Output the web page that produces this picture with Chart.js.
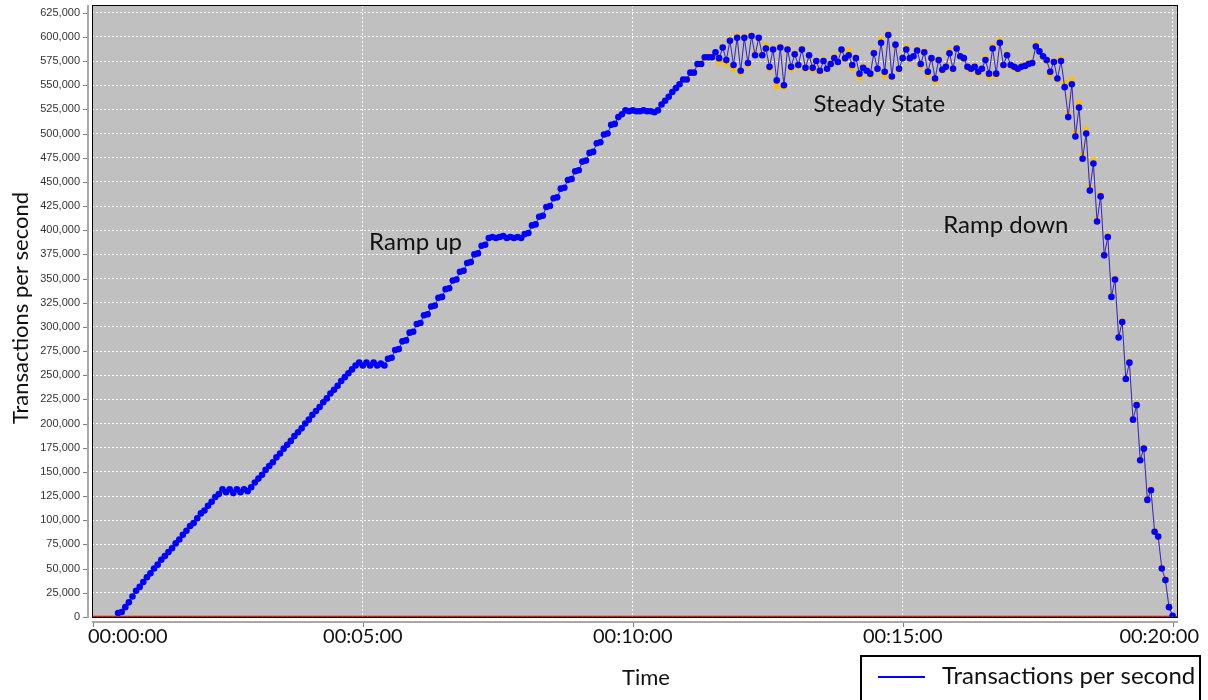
<!DOCTYPE html>
<html>
<head>
<meta charset="utf-8">
<script src="https://cdn.jsdelivr.net/npm/chart.js@4.4.1/dist/chart.umd.min.js"></script>
<style>
  html, body { margin: 0; padding: 0; background: #fff; }
</style>
</head>
<body>
<canvas id="tpsChart" width="1208" height="700"></canvas>
<script>
// samples every 4 s, first one 28 s into the run
const sampleStart = 28;
const sampleStep = 4;

// transactions per second, in thousands
const tpsThousands = [
  4, 5, 10, 15, 21, 27, 31, 36, 41, 45, 50, 54, 59, 63, 67, 71, 76, 80, 85, 89,
  94, 97, 102, 107, 110, 115, 119, 124, 127, 132,
  129, 132, 128, 132, 129, 132, 130,
  134, 139, 143, 147, 152, 156, 160, 165, 169, 174, 178, 182, 187, 191, 195, 200,
  204, 209, 213, 217, 222, 226, 231, 235, 239, 244, 248, 252, 256, 260, 263,
  260, 263, 260, 263, 260, 262, 260,
  267, 268, 276, 277, 285, 286, 294, 295, 303, 304, 312, 313, 321, 322, 330, 331,
  339, 340, 348, 349, 357, 358, 366, 367, 375, 376, 384, 385, 392,
  393, 392, 393, 394, 392, 393, 392, 393, 392,
  396, 397, 405, 406, 414, 415, 424, 425, 433, 434, 443, 444, 452, 453, 461, 462,
  471, 472, 480, 481, 490, 491, 499, 500, 509, 510, 517, 520, 524,
  523, 524, 523, 523, 524, 523, 523, 522, 524,
  530, 534, 538, 543, 547, 551,
  556, 556, 563, 563, 572, 572, 579, 579, 579, 584, 578, 589, 576, 596, 571, 599,
  565, 599, 573, 601, 581, 599, 581, 588, 569, 587, 555, 589, 550, 587, 569, 582,
  571, 587, 568, 581, 568, 575, 565, 575, 567, 572, 578, 574, 587, 578, 581, 571,
  578, 562, 568, 565, 562, 583,
  567, 594, 564, 602, 559, 592, 567, 578, 587, 578, 580, 586, 572, 584, 564, 578,
  557, 576, 566, 569, 583, 567, 588, 580, 578, 569, 567, 569, 564, 567, 576, 562,
  588, 562, 594, 571, 581, 571, 569, 567, 569, 570, 572, 573, 590, 585, 580, 576,
  564, 574, 557, 575,
  548, 517, 551, 497, 527, 474, 500, 441, 469, 409, 435, 374, 393, 331, 349, 289,
  305, 246, 263, 204, 219, 162, 174, 121, 131, 88, 83, 50, 38, 10, 1
];

// the second trace only separates from the first once the load levels off
const laggedStartIndex = 157;
const laggedThousands = [
  555, 556, 562, 563, 571, 573, 578, 580, 579, 583, 574, 590, 572, 597, 567, 601,
  563, 600, 571, 602, 583, 598, 582, 591, 567, 588, 549, 590, 548, 588, 567, 583,
  570, 588, 567, 580, 566, 573, 564, 576, 566, 573, 580, 575, 586, 577, 585, 568,
  579, 558, 569, 566, 560, 584,
  566, 597, 560, 603, 558, 590, 566, 579, 589, 577, 580, 587, 570, 585, 561, 577,
  554, 577, 565, 570, 585, 566, 589, 581, 577, 568, 566, 570, 562, 566, 578, 559,
  590, 560, 596, 570, 582, 570, 568, 566, 570, 571, 573, 574, 592, 586, 579, 575,
  561, 575, 556, 577,
  552, 521, 555, 501, 531, 478, 504, 444, 472, 411, 437, 375, 394, 332, 350, 290,
  306, 247, 264, 205, 220, 163, 175, 122, 132, 89, 84, 51, 39, 11, 1
];

// error rate stays flat at zero for the whole run
const baselineTimes = [-1, 1206];
const errorRate = [0, 0];

const xTickValues = [0, 300, 600, 900, 1200];
const xTickLabels = ['00:00:00', '00:05:00', '00:10:00', '00:15:00', '00:20:00'];
const yTickValues = [
  0, 25000, 50000, 75000, 100000, 125000, 150000, 175000, 200000, 225000,
  250000, 275000, 300000, 325000, 350000, 375000, 400000, 425000, 450000,
  475000, 500000, 525000, 550000, 575000, 600000, 625000
];

const phaseNotes = [
  { text: 'Ramp up', t: 307, v: 380000 },
  { text: 'Steady State', t: 801, v: 522000 },
  { text: 'Ramp down', t: 945, v: 397000 }
];

const seriesLabel = 'Transactions per second';
const titleFont = "'Lato', 'Open Sans', sans-serif";

const tpsPoints = tpsThousands.map((v, i) => ({ x: sampleStart + i * sampleStep, y: v * 1000 }));
const laggedPoints = laggedThousands.map((v, i) => ({
  x: sampleStart + (laggedStartIndex + i) * sampleStep,
  y: v * 1000
}));
const baselinePoints = baselineTimes.map((t, i) => ({ x: t, y: errorRate[i] }));

const plotDecor = {
  id: 'plotDecor',
  beforeDraw(chart) {
    const { ctx, chartArea: a } = chart;
    ctx.save();
    ctx.fillStyle = '#ffffff';
    ctx.fillRect(0, 0, chart.width, chart.height);
    ctx.fillStyle = '#c0c0c0';
    ctx.fillRect(a.left, a.top, a.right - a.left, a.bottom - a.top);
    ctx.restore();
  },
  afterDraw(chart) {
    const { ctx, chartArea: a } = chart;
    const x = chart.scales.x, y = chart.scales.y;
    ctx.save();

    // frame round the plot
    ctx.strokeStyle = '#000';
    ctx.lineWidth = 1;
    ctx.strokeRect(a.left + 0.5, a.top + 0.5, a.right - a.left - 1, a.bottom - a.top - 1);

    // axis lines sit a few pixels off the frame
    ctx.strokeStyle = '#a8a8a8';
    ctx.lineWidth = 2;
    ctx.beginPath();
    ctx.moveTo(a.left - 4, a.top);
    ctx.lineTo(a.left - 4, a.bottom);
    ctx.moveTo(a.left, a.bottom + 4);
    ctx.lineTo(a.right, a.bottom + 4);
    ctx.stroke();

    ctx.strokeStyle = '#808080';
    ctx.lineWidth = 1;
    ctx.beginPath();
    yTickValues.forEach(v => {
      const py = Math.round(y.getPixelForValue(v)) + 0.5;
      ctx.moveTo(a.left - 9, py);
      ctx.lineTo(a.left - 5, py);
    });
    xTickValues.forEach(v => {
      const px = Math.round(x.getPixelForValue(v)) + 0.5;
      ctx.moveTo(px, a.bottom + 5);
      ctx.lineTo(px, a.bottom + 9);
    });
    ctx.stroke();

    // time labels, kept inside the canvas at both ends
    ctx.fillStyle = '#111';
    ctx.font = '20px ' + titleFont;
    ctx.textBaseline = 'middle';
    ctx.textAlign = 'left';
    xTickValues.forEach((v, i) => {
      const w = ctx.measureText(xTickLabels[i]).width;
      let left = x.getPixelForValue(v) - w / 2;
      left = Math.max(a.left - 4, Math.min(left, chart.width - 9 - w));
      ctx.fillText(xTickLabels[i], left, a.bottom + 19);
    });

    // axis titles
    ctx.font = '22px ' + titleFont;
    ctx.textAlign = 'center';
    ctx.fillText('Time', 646, 678);
    ctx.save();
    ctx.translate(21, 308);
    ctx.rotate(-Math.PI / 2);
    ctx.fillText('Transactions per second', 0, 0);
    ctx.restore();

    // phase notes
    ctx.font = '24px ' + titleFont;
    ctx.textAlign = 'left';
    ctx.textBaseline = 'alphabetic';
    phaseNotes.forEach(n => {
      ctx.fillText(n.text, x.getPixelForValue(n.t), y.getPixelForValue(n.v));
    });

    // legend box, cut by the bottom edge
    ctx.strokeStyle = '#000';
    ctx.lineWidth = 2;
    ctx.strokeRect(861, 656, 339, 60);
    ctx.strokeStyle = '#0000ff';
    ctx.beginPath();
    ctx.moveTo(878, 677);
    ctx.lineTo(925, 677);
    ctx.stroke();
    ctx.fillStyle = '#111';
    ctx.font = '24px ' + titleFont;
    ctx.fillText(seriesLabel, 942, 684);

    ctx.restore();
  }
};

new Chart(document.getElementById('tpsChart'), {
  type: 'line',
  data: {
    datasets: [
      {
        label: 'Errors per second',
        data: baselinePoints,
        order: 3,
        borderColor: '#ff0000',
        borderWidth: 2,
        pointRadius: 0
      },
      {
        label: 'Transactions per second (lagged)',
        data: laggedPoints,
        order: 2,
        borderColor: '#f0b400',
        backgroundColor: '#ffbf00',
        borderWidth: 1,
        pointRadius: 3.3,
        pointBorderWidth: 0
      },
      {
        label: seriesLabel,
        data: tpsPoints,
        order: 1,
        borderColor: '#2424ff',
        backgroundColor: '#0000ff',
        borderWidth: 1,
        pointRadius: 3.3,
        pointBorderWidth: 0
      },
      {
        label: 'Response errors',
        data: baselinePoints,
        order: 0,
        borderColor: '#2fa02f',
        borderWidth: 1,
        borderDash: [1, 4],
        pointRadius: 0
      }
    ]
  },
  options: {
    responsive: false,
    animation: false,
    events: [],
    layout: { padding: { top: 5, right: 30, left: 0, bottom: 0 } },
    elements: { line: { tension: 0 } },
    scales: {
      x: {
        type: 'linear',
        min: -1,
        max: 1206,
        afterFit: s => { s.height = 82; s.paddingLeft = 0; s.paddingRight = 0; },
        afterBuildTicks: s => { s.ticks = xTickValues.map(v => ({ value: v })); },
        ticks: { display: false },
        grid: { color: 'rgba(255,255,255,0.95)', lineWidth: 1, drawTicks: false },
        border: { display: false, dash: [2, 2] }
      },
      y: {
        min: -1200,
        max: 633000,
        afterFit: s => { s.width = 92; s.paddingTop = 0; s.paddingBottom = 0; },
        afterBuildTicks: s => { s.ticks = yTickValues.map(v => ({ value: v })); },
        ticks: {
          padding: 12,
          color: '#333',
          font: { family: "'Liberation Sans', Arial, sans-serif", size: 11 },
          callback: v => v.toLocaleString('en-US')
        },
        grid: { color: 'rgba(255,255,255,0.95)', lineWidth: 1, drawTicks: false },
        border: { display: false, dash: [2, 2] }
      }
    },
    plugins: {
      legend: { display: false },
      tooltip: { enabled: false }
    }
  },
  plugins: [plotDecor]
});
</script>
</body>
</html>
